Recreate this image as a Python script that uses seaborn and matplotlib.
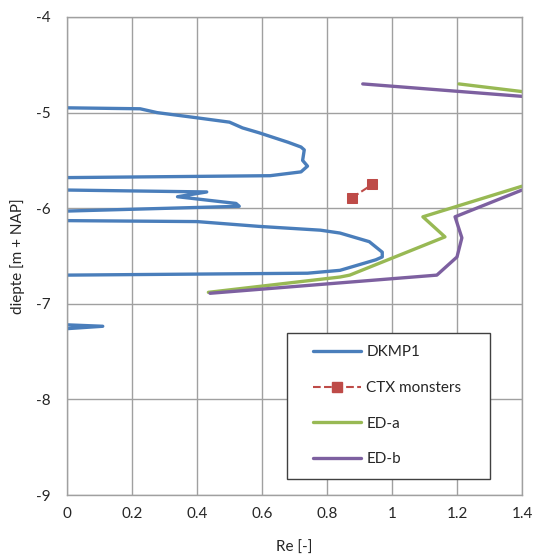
import numpy as np
import pandas as pd
import matplotlib
matplotlib.use('Agg')
import matplotlib.pyplot as plt
from matplotlib.lines import Line2D
from matplotlib.legend_handler import HandlerLine2D
import seaborn as sns

# DKMP1 - measured profile, split into the separate loops
dkmp1_segs = [
    ([0.0, 0.225, 0.277, 0.39, 0.50, 0.54, 0.59, 0.68, 0.72, 0.73, 0.725, 0.74, 0.72, 0.625, 0.0],
     [-4.95, -4.96, -5.00, -5.05, -5.10, -5.16, -5.21, -5.31, -5.36, -5.39, -5.50, -5.56, -5.62, -5.66, -5.68]),
    ([0.0, 0.43, 0.34, 0.52, 0.53, 0.0],
     [-5.81, -5.83, -5.88, -5.95, -5.98, -6.03]),
    ([0.0, 0.40, 0.59, 0.78, 0.84, 0.93, 0.97, 0.97, 0.95, 0.89, 0.84, 0.74, 0.0],
     [-6.13, -6.14, -6.19, -6.23, -6.26, -6.35, -6.46, -6.51, -6.54, -6.60, -6.65, -6.68, -6.70]),
    ([0.0, 0.11, 0.0],
     [-7.22, -7.235, -7.26]),
]
ctx_x = [0.877, 0.94]
ctx_y = [-5.89, -5.75]
eda_segs = [
    ([1.206, 1.40], [-4.70, -4.78]),
    ([1.40, 1.095, 1.163, 0.87, 0.84, 0.435], [-5.77, -6.09, -6.30, -6.70, -6.72, -6.88]),
]
edb_segs = [
    ([0.91, 1.40], [-4.70, -4.83]),
    ([1.40, 1.194, 1.215, 1.20, 1.138, 0.44], [-5.81, -6.09, -6.31, -6.51, -6.70, -6.89]),
]

blue = '#4A7EBB'
red = '#BE4B48'
green = '#98B954'
purple = '#7D60A0'

sns.set_style('white')
plt.rcParams['font.family'] = ['Lato', 'DejaVu Sans']

fig = plt.figure(figsize=(5.33, 5.57), dpi=100)
ax = fig.add_axes([67/533, 1 - 495/557, (522-67)/533, (495-17)/557])

for xs, ys in dkmp1_segs:
    sns.lineplot(x=xs, y=ys, sort=False, estimator=None, color=blue, lw=2.4, ax=ax)
for xs, ys in eda_segs:
    sns.lineplot(x=xs, y=ys, sort=False, estimator=None, color=green, lw=2.4, ax=ax)
for xs, ys in edb_segs:
    sns.lineplot(x=xs, y=ys, sort=False, estimator=None, color=purple, lw=2.4, ax=ax)
sns.lineplot(x=ctx_x, y=ctx_y, sort=False, estimator=None, color=red, lw=1.5, ax=ax,
             linestyle='--', marker='s', markersize=7, markeredgecolor=red)

handles = [
    Line2D([], [], color=blue, lw=2.4),
    Line2D([], [], color=red, lw=1.5, ls='--', marker='s', markersize=7),
    Line2D([], [], color=green, lw=2.4),
    Line2D([], [], color=purple, lw=2.4),
]
labels = ['DKMP1', 'CTX monsters', 'ED-a', 'ED-b']
hm = {h: HandlerLine2D(xpad=0.92) for h in handles}
leg = ax.legend(handles, labels, loc='upper left', handler_map=hm,
                bbox_to_anchor=((287-67)/455, 1 - (476-17)/478, (490-287)/455, (476-333)/478),
                mode='expand', fontsize=11, handlelength=4.06, labelspacing=1.42,
                borderpad=0.8, fancybox=False, framealpha=1, handletextpad=0.33,
                borderaxespad=0)
leg.get_frame().set_edgecolor('#404040')
leg.get_frame().set_linewidth(1.0)

ax.set_xlim(0, 1.4)
ax.set_ylim(-9, -4)
ax.set_xticks(np.arange(0, 1.41, 0.2))
ax.set_xticklabels(['0', '0.2', '0.4', '0.6', '0.8', '1', '1.2', '1.4'])
ax.set_yticks([-9, -8, -7, -6, -5, -4])
ax.set_yticklabels(['-9', '-8', '-7', '-6', '-5', '-4'])
ax.grid(True, color='#A0A0A0', lw=1.0)
ax.set_axisbelow(True)
for s in ax.spines.values():
    s.set_color('#A0A0A0')
    s.set_linewidth(1.0)
ax.tick_params(axis='x', length=0, labelsize=11, pad=9)
ax.tick_params(axis='y', length=0, labelsize=11, pad=12)
ax.set_xlabel('Re [-]', fontsize=11, labelpad=14)
ax.set_ylabel('diepte [m + NAP]', fontsize=11, labelpad=8)

fig.savefig('out.png', dpi=100)
